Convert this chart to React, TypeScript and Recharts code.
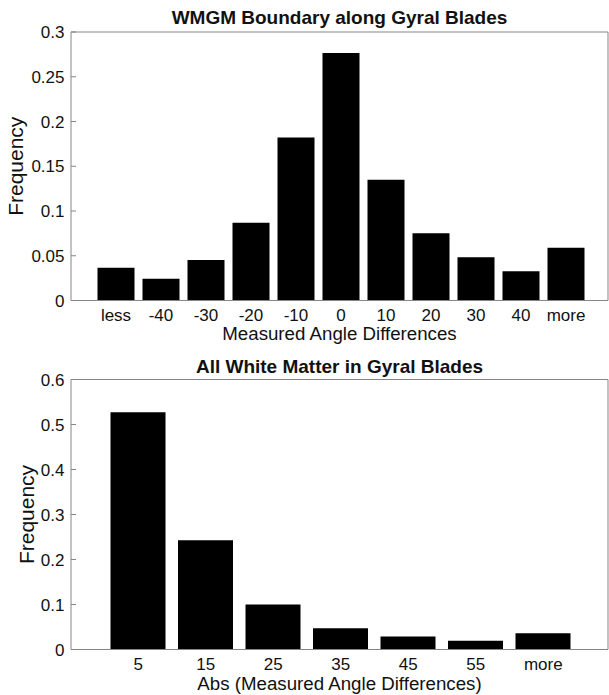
import React from 'react';
import { BarChart, Bar, XAxis, YAxis } from 'recharts';

const boundaryCategories = ['less', '-40', '-30', '-20', '-10', '0', '10', '20', '30', '40', 'more'];
const boundaryFrequency = [0.0367, 0.0244, 0.0453, 0.087, 0.182, 0.2765, 0.135, 0.0752, 0.0483, 0.0327, 0.059];
const boundaryTicks = [0, 0.05, 0.1, 0.15, 0.2, 0.25, 0.3];

const whiteMatterCategories = ['5', '15', '25', '35', '45', '55', 'more'];
const whiteMatterFrequency = [0.527, 0.243, 0.1, 0.047, 0.029, 0.0196, 0.036];
const whiteMatterTicks = [0, 0.1, 0.2, 0.3, 0.4, 0.5, 0.6];

const frameTicks = [1, 2, 3, 4, 5, 6, 7];

const FONT = '"Liberation Sans", Arial, Helvetica, sans-serif';
const GRAY = '#858585';
const INK = '#111111';

type PanelProps = {
  title: string;
  xLabel: string;
  categories: string[];
  values: number[];
  ticks: number[];
  height: number;
  marginTop: number;
  xAxisHeight: number;
  padLeft: number;
  padRight: number;
  barSize: number;
  yLabelOffset: number;
  titleOffset: number;
};

function Panel(p: PanelProps) {
  const data = p.categories.map((c, i) => ({ cat: c, freq: p.values[i] }));
  const yMax = p.ticks[p.ticks.length - 1];
  return (
    <BarChart
      width={609}
      height={p.height}
      data={data}
      margin={{ top: p.marginTop, right: 0, bottom: 0, left: 0 }}
      style={{ fontFamily: FONT }}
    >
      <XAxis
        xAxisId="cat"
        dataKey="cat"
        type="category"
        interval={0}
        padding={{ left: p.padLeft, right: p.padRight }}
        height={p.xAxisHeight}
        tickSize={0}
        tickMargin={8}
        tickLine={false}
        axisLine={{ stroke: GRAY, strokeWidth: 1 }}
        tick={{ fill: INK, fontSize: 17, fontFamily: FONT }}
        label={{ value: p.xLabel, position: 'insideBottom', offset: 5, fill: INK, fontSize: 18.7, fontFamily: FONT }}
      />
      <XAxis
        xAxisId="frame"
        orientation="top"
        type="number"
        domain={[0, 8]}
        ticks={frameTicks}
        allowDataOverflow
        height={1}
        tick={false}
        tickSize={-4}
        axisLine={{ stroke: GRAY, strokeWidth: 1 }}
        tickLine={{ stroke: GRAY, strokeWidth: 1 }}
        label={{ value: p.title, position: 'top', offset: p.titleOffset, fill: INK, fontSize: 19, fontWeight: 'bold', fontFamily: FONT }}
      />
      <YAxis
        yAxisId="left"
        type="number"
        domain={[0, yMax]}
        ticks={p.ticks}
        interval={0}
        width={71}
        tickSize={-5}
        tickMargin={11.5}
        tickFormatter={(v: number) => String(v)}
        axisLine={{ stroke: GRAY, strokeWidth: 1 }}
        tickLine={{ stroke: GRAY, strokeWidth: 1 }}
        tick={{ fill: INK, fontSize: 17, fontFamily: FONT }}
        label={{
          value: 'Frequency',
          angle: -90,
          position: 'insideLeft',
          offset: p.yLabelOffset,
          style: { textAnchor: 'middle' },
          fill: INK,
          fontSize: 21,
          fontFamily: FONT,
        }}
      />
      <YAxis
        yAxisId="right"
        orientation="right"
        type="number"
        domain={[0, yMax]}
        ticks={p.ticks}
        interval={0}
        width={1}
        tick={false}
        tickSize={-5}
        axisLine={{ stroke: GRAY, strokeWidth: 1 }}
        tickLine={{ stroke: GRAY, strokeWidth: 1 }}
      />
      <Bar
        dataKey="freq"
        xAxisId="cat"
        yAxisId="left"
        fill="#000000"
        barSize={p.barSize}
        isAnimationActive={false}
      />
    </BarChart>
  );
}

export default function App() {
  return (
    <div style={{ position: 'absolute', left: 0, top: 0, width: 609, height: 695, background: '#ffffff' }}>
      <div style={{ position: 'absolute', left: 0, top: 0 }}>
        <Panel
          title="WMGM Boundary along Gyral Blades"
          xLabel="Measured Angle Differences"
          categories={boundaryCategories}
          values={boundaryFrequency}
          ticks={boundaryTicks}
          height={345}
          marginTop={31}
          xAxisHeight={44.5}
          padLeft={22.5}
          padRight={19.5}
          barSize={37}
          yLabelOffset={16}
          titleOffset={7}
        />
      </div>
      <div style={{ position: 'absolute', left: 0, top: 345 }}>
        <Panel
          title="All White Matter in Gyral Blades"
          xLabel="Abs (Measured Angle Differences)"
          categories={whiteMatterCategories}
          values={whiteMatterFrequency}
          ticks={whiteMatterTicks}
          height={350}
          marginTop={33.5}
          xAxisHeight={45.5}
          padLeft={33.5}
          padRight={31}
          barSize={55}
          yLabelOffset={27}
          titleOffset={6}
        />
      </div>
    </div>
  );
}
